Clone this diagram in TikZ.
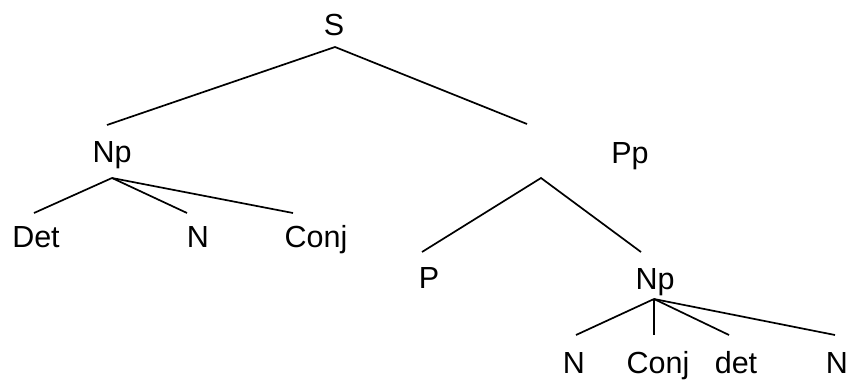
\documentclass[tikz,border=0pt]{standalone}
\usepackage{fontspec}
\setmainfont{Liberation Sans}
\begin{document}
\begin{tikzpicture}[x=1pt,y=-1pt,
  lbl/.style={anchor=base,inner sep=0pt,font=\fontsize{30.5}{36}\selectfont},
  edge/.style={line width=1.7pt,line cap=butt}]
\useasboundingbox (0,0) rectangle (854,383);
% labels
\node[lbl] (S) at (334,35) {S};
\node[lbl] (Np1) at (112,162) {Np};
\node[lbl] (Det) at (36,247) {Det};
\node[lbl] (N1) at (198,247) {N};
\node[lbl] (Conj1) at (316,247) {Conj};
\node[lbl] (Pp) at (630,163) {Pp};
\node[lbl] (P) at (429,288) {P};
\node[lbl] (Np2) at (655,289) {Np};
\node[lbl] (N2) at (574,373) {N};
\node[lbl] (Conj2) at (658,373) {Conj};
\node[lbl] (det) at (736,373) {det};
\node[lbl] (N3) at (837,373) {N};
% connector end points
\coordinate (sb) at (335,47);
\coordinate (npa) at (107,125);
\coordinate (ppa) at (527,124);
\coordinate (np1b) at (112,178);
\coordinate (deta) at (34,213);
\coordinate (n1a) at (187,213);
\coordinate (conj1a) at (293,213);
\coordinate (ppb) at (541,178);
\coordinate (pa) at (422,252);
\coordinate (np2a) at (641,252);
\coordinate (np2b) at (654,299);
\coordinate (n2a) at (576,335);
\coordinate (conj2a) at (654,335);
\coordinate (deta2) at (729,335);
\coordinate (n3a) at (835,335);
% connectors
\draw[edge] (npa) -- (sb) -- (ppa);
\draw[edge] (np1b) -- (deta);
\draw[edge] (np1b) -- (n1a);
\draw[edge] (np1b) -- (conj1a);
\draw[edge] (pa) -- (ppb) -- (np2a);
\draw[edge] (np2b) -- (n2a);
\draw[edge] (np2b) -- (conj2a);
\draw[edge] (np2b) -- (deta2);
\draw[edge] (np2b) -- (n3a);
\end{tikzpicture}
\end{document}
